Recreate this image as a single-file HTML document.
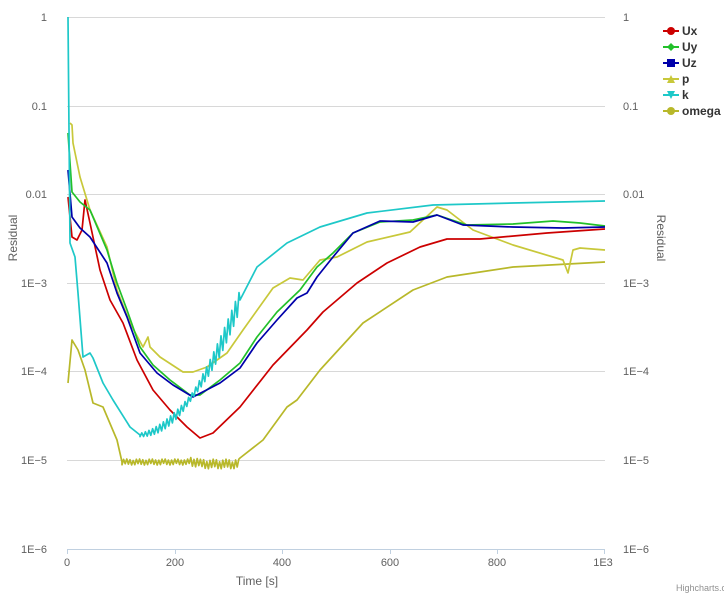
<!DOCTYPE html>
<html><head><meta charset="utf-8"><style>
body{margin:0;background:#fff;}
svg{font-family:"Liberation Sans",sans-serif;}
</style></head><body>
<svg id="s" width="724" height="594" xmlns="http://www.w3.org/2000/svg">
<g stroke="#d8d8d8" stroke-width="1">
<line x1="67" x2="605" y1="17.5" y2="17.5"/><line x1="67" x2="605" y1="106.5" y2="106.5"/>
<line x1="67" x2="605" y1="194.5" y2="194.5"/><line x1="67" x2="605" y1="283.5" y2="283.5"/>
<line x1="67" x2="605" y1="371.5" y2="371.5"/><line x1="67" x2="605" y1="460.5" y2="460.5"/>
</g>
<line x1="67" x2="605" y1="549.5" y2="549.5" stroke="#c0d0e0"/>
<g stroke="#c0d0e0"><line x1="67.5" x2="67.5" y1="549" y2="554"/><line x1="175.5" x2="175.5" y1="549" y2="554"/><line x1="282.5" x2="282.5" y1="549" y2="554"/><line x1="390.5" x2="390.5" y1="549" y2="554"/><line x1="497.5" x2="497.5" y1="549" y2="554"/><line x1="604.5" x2="604.5" y1="549" y2="554"/></g>
<g font-size="11" fill="#606060" text-anchor="end">
<text x="47" y="21">1</text><text x="47" y="110">0.1</text><text x="47" y="198">0.01</text><text x="47" y="287">1E−3</text><text x="47" y="375">1E−4</text><text x="47" y="464">1E−5</text><text x="47" y="553">1E−6</text>
</g>
<g font-size="11" fill="#606060" text-anchor="start">
<text x="623" y="21">1</text><text x="623" y="110">0.1</text><text x="623" y="198">0.01</text><text x="623" y="287">1E−3</text><text x="623" y="375">1E−4</text><text x="623" y="464">1E−5</text><text x="623" y="553">1E−6</text>
</g>
<g font-size="11" fill="#606060" text-anchor="middle">
<text x="67" y="566">0</text><text x="175" y="566">200</text><text x="282" y="566">400</text><text x="390" y="566">600</text><text x="497" y="566">800</text><text x="603" y="566">1E3</text>
<text x="257" y="585" font-size="12">Time [s]</text>
<text transform="translate(17,238) rotate(-90)" font-size="12">Residual</text>
<text transform="translate(657,238) rotate(90)" font-size="12">Residual</text>
</g>
<text x="676" y="591" font-size="9" fill="#909090">Highcharts.c</text>
<g id="series" fill="none" stroke-width="1.7" stroke-linejoin="round"></g>
<g font-size="12" font-weight="bold" fill="#333">
<line x1="663" x2="679" y1="31" y2="31" stroke="#cc0000" stroke-width="2"/><circle cx="671" cy="31" r="4" fill="#cc0000"/><text x="682" y="35">Ux</text>
<line x1="663" x2="679" y1="47" y2="47" stroke="#22c02a" stroke-width="2"/><path d="M671 43L675 47L671 51L667 47Z" fill="#22c02a"/><text x="682" y="51">Uy</text>
<line x1="663" x2="679" y1="63" y2="63" stroke="#0000aa" stroke-width="2"/><rect x="667" y="59" width="8" height="8" fill="#0000aa"/><text x="682" y="67">Uz</text>
<line x1="663" x2="679" y1="79" y2="79" stroke="#c8c83a" stroke-width="2"/><path d="M671 75L675 83L667 83Z" fill="#c8c83a"/><text x="682" y="83">p</text>
<line x1="663" x2="679" y1="95" y2="95" stroke="#1ec8c8" stroke-width="2"/><path d="M667 91L675 91L671 99Z" fill="#1ec8c8"/><text x="682" y="99">k</text>
<line x1="663" x2="679" y1="111" y2="111" stroke="#b8b82a" stroke-width="2"/><circle cx="671" cy="111" r="4" fill="#b8b82a"/><text x="682" y="115">omega</text>
</g>
</svg>
<script>
var S=[
["#b8b82a",[[68,383],[72,340],[78,350],[85,370],[93,403],[103,407],[117,440],[122,462],["N",122,240,462,3],[240,458],[263,440],[287,407],[297,400],[320,370],[363,323],[413,290],[447,277],[513,267],[605,262]]],
["#c8c83a",[[70,123],[72,125],[73,143],[80,177],[90,210],[107,247],[117,290],[130,323],[143,347],[148,337],[150,347],[160,357],[183,372],[193,372],[207,367],[227,353],[243,330],[273,288],[290,278],[303,280],[320,260],[337,257],[367,242],[410,232],[437,207],[447,210],[473,230],[513,245],[563,260],[568,273],[573,250],[580,248],[605,250]]],
["#cc0000",[[68,197],[72,237],[77,240],[82,230],[85,200],[90,223],[100,270],[110,300],[123,323],[137,360],[153,390],[170,410],[187,427],[200,438],[213,433],[240,407],[273,365],[307,330],[323,312],[357,283],[387,263],[420,247],[447,239],[480,239],[547,233],[605,229]]],
["#22c02a",[[68,133],[72,192],[80,202],[90,210],[107,250],[117,283],[127,310],[140,347],[153,365],[170,380],[190,395],[200,395],[220,380],[240,363],[257,337],[277,312],[300,290],[317,267],[333,253],[353,233],[380,222],[413,220],[437,215],[467,225],[513,224],[553,221],[580,223],[605,226]]],
["#0000aa",[[68,170],[72,217],[80,228],[90,237],[107,263],[117,293],[127,317],[140,353],[157,373],[173,385],[193,397],[220,383],[240,368],[257,343],[277,320],[297,298],[307,293],[317,277],[333,257],[353,233],[380,221],[413,222],[437,215],[463,225],[513,227],[563,228],[605,227]]],
["#1ec8c8",[[68,17],[70,243],[75,257],[78,293],[83,357],[90,353],[93,358],[103,383],[113,400],[130,427],[140,435],["M",140,240],[240,300],[257,267],[287,243],[320,227],[367,213],[433,205],[513,203],[605,201]]]
];
var g=document.getElementById("series");
S.forEach(function(s){
 var pts=[];
 s[1].forEach(function(p){
  if(p[0]==="N"){var i=0;for(var x=p[1];x<p[2];x+=1.6,i++){var a=p[4]*(0.4+0.6*Math.abs(Math.sin(x*0.73)))*(x>190?1.6:1);pts.push([x,p[3]+(i%2?-a:a)+(x>200?2:0)]);}}
  else if(p[0]==="M"){var i=0;for(var x=p[1];x<p[2];x+=1.8,i++){var t=(x-140)/100;var base=435-(125*t*t+10*t);var a=2+9*t;pts.push([x,base+(i%2?-a:a)*(0.4+0.6*Math.abs(Math.sin(x*1.7)))]);}}
  else pts.push(p);
 });
 var e=document.createElementNS("http://www.w3.org/2000/svg","polyline");
 e.setAttribute("points",pts.map(function(p){return p[0].toFixed(1)+","+p[1].toFixed(1)}).join(" "));
 e.setAttribute("stroke",s[0]);
 g.appendChild(e);
});
</script>
</body></html>
